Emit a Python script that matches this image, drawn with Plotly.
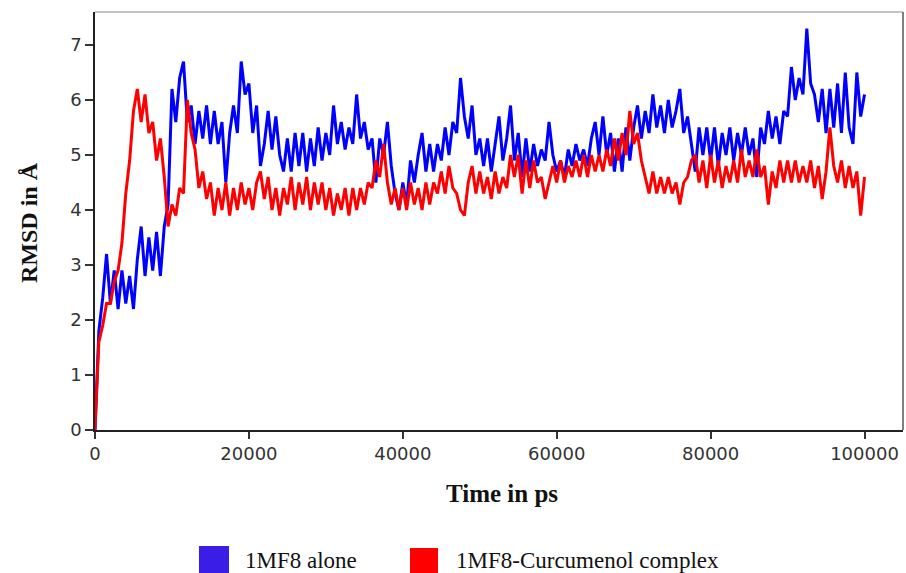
import plotly.graph_objects as go

blue_alone = [
    0.0, 1.8, 2.4, 3.2, 2.3, 2.9, 2.2, 2.9, 2.3, 2.8, 2.2, 3.1, 3.7, 2.8, 3.5, 2.9, 3.6, 2.8, 3.7, 4.1,
    6.2, 5.6, 6.4, 6.7, 5.6, 5.9, 5.2, 5.8, 5.3, 5.9, 5.2, 5.8, 5.2, 5.6, 4.5, 5.4, 5.9, 5.4, 6.7, 6.1,
    6.3, 5.4, 5.9, 4.8, 5.2, 5.8, 5.1, 5.7, 5.0, 4.7, 5.3, 4.7, 5.4, 4.8, 5.4, 4.7, 5.3, 4.8, 5.5, 4.9,
    5.4, 5.0, 5.9, 5.2, 5.6, 5.1, 5.5, 5.2, 6.1, 5.3, 5.6, 5.1, 5.3, 4.5, 5.3, 5.0, 5.6, 4.8, 4.3, 4.0,
    4.5, 4.1, 4.9, 4.5, 5.0, 5.4, 4.7, 5.2, 4.7, 5.2, 4.9, 5.5, 5.0, 5.6, 5.4, 6.4, 5.7, 5.3, 5.9, 5.0,
    5.3, 4.8, 5.3, 4.7, 5.2, 5.7, 4.9, 5.3, 5.9, 4.9, 5.4, 4.6, 5.3, 4.7, 5.2, 4.8, 5.1, 4.9, 5.6, 5.0,
    4.7, 4.9, 4.6, 5.1, 4.8, 5.2, 4.9, 5.1, 4.8, 5.3, 5.6, 5.0, 5.7, 5.0, 5.4, 4.7, 5.3, 4.7, 5.5, 4.9,
    5.5, 5.9, 5.3, 5.8, 5.4, 6.1, 5.5, 5.9, 5.4, 6.0, 5.5, 5.8, 6.2, 5.4, 5.7, 5.2, 4.7, 5.5, 5.0, 5.5,
    4.9, 5.5, 4.8, 5.4, 5.0, 5.5, 4.9, 5.4, 5.0, 5.5, 5.0, 5.3, 4.6, 5.5, 5.2, 5.8, 5.3, 5.7, 5.2, 5.8,
    5.7, 6.6, 6.0, 6.4, 6.1, 7.3, 6.3, 6.1, 5.6, 6.2, 5.4, 6.2, 5.5, 6.3, 5.4, 6.5, 5.5, 5.2, 6.5, 5.7,
    6.1,
]

red_complex = [
    0.0, 1.6, 1.9, 2.3, 2.3, 2.7, 2.9, 3.4, 4.3, 4.9, 5.8, 6.2, 5.6, 6.1, 5.4, 5.6, 4.9, 5.3, 4.6, 3.7,
    4.1, 3.9, 4.4, 4.3, 6.0, 5.4, 5.1, 4.4, 4.7, 4.2, 4.5, 3.9, 4.4, 4.0, 4.5, 3.9, 4.4, 4.0, 4.5, 4.1,
    4.4, 4.0, 4.5, 4.7, 4.2, 4.6, 4.0, 4.4, 3.9, 4.4, 4.1, 4.6, 4.0, 4.5, 4.1, 4.6, 4.0, 4.5, 4.1, 4.5,
    4.0, 4.4, 3.9, 4.3, 4.0, 4.4, 3.9, 4.4, 4.0, 4.4, 4.1, 4.5, 4.4, 4.9, 4.6, 5.2, 4.5, 4.1, 4.4, 4.0,
    4.4, 4.0, 4.5, 4.1, 4.4, 4.0, 4.5, 4.1, 4.5, 4.3, 4.7, 4.3, 4.8, 4.4, 4.3, 4.0, 3.9, 4.5, 4.8, 4.3,
    4.7, 4.3, 4.6, 4.2, 4.7, 4.3, 4.6, 4.4, 5.0, 4.6, 5.0, 4.3, 4.9, 4.4, 4.9, 4.5, 4.6, 4.2, 4.5, 4.8,
    4.5, 4.9, 4.5, 4.8, 4.6, 4.9, 4.6, 5.0, 4.6, 5.0, 4.7, 5.0, 4.7, 5.1, 4.8, 5.3, 4.9, 5.4, 5.0, 5.8,
    5.2, 5.4, 4.9, 4.6, 4.3, 4.7, 4.3, 4.6, 4.3, 4.6, 4.3, 4.5, 4.1, 4.5, 4.6, 4.9, 5.0, 4.5, 4.9, 4.4,
    5.0, 4.5, 4.9, 4.4, 4.8, 4.5, 4.9, 4.5, 5.1, 4.6, 4.9, 4.6, 5.1, 4.6, 4.8, 4.1, 4.7, 4.4, 4.9, 4.5,
    4.9, 4.5, 4.9, 4.5, 4.8, 4.5, 4.9, 4.4, 4.8, 4.2, 4.7, 5.5, 4.8, 4.5, 4.9, 4.4, 4.8, 4.4, 4.7, 3.9,
    4.6,
]

time_step_ps = 500
time_ps = [i * time_step_ps for i in range(len(blue_alone))]

x_ticks = [0, 20000, 40000, 60000, 80000, 100000]
y_ticks = [0, 1, 2, 3, 4, 5, 6, 7]

series_names = ["1MF8 alone", "1MF8-Curcumenol complex"]
line_colors = ["#0000ff", "#ff0000"]
legend_colors = ["#3a1ee8", "#ff0000"]

fig = go.Figure()
fig.add_trace(go.Scatter(x=time_ps, y=blue_alone, mode="lines", name=series_names[0],
                         line=dict(color=line_colors[0], width=3), showlegend=False))
fig.add_trace(go.Scatter(x=time_ps, y=red_complex, mode="lines", name=series_names[1],
                         line=dict(color=line_colors[1], width=3), showlegend=False))

tick_font = dict(family="DejaVu Sans", size=18, color="#333333")

fig.update_xaxes(range=[0, 105000], tickvals=x_ticks, ticktext=[str(v) for v in x_ticks],
                 showgrid=False, zeroline=False, showline=True, linecolor="#222222", linewidth=1.5,
                 ticks="outside", ticklen=7, tickwidth=1.5, tickcolor="#333333", tickfont=tick_font,
                 automargin=False)
fig.update_yaxes(range=[0, 7.6], tickvals=y_ticks, showgrid=False, zeroline=False, showline=True,
                 linecolor="#222222", linewidth=1.5, ticks="outside", ticklen=8, tickwidth=1.5,
                 tickcolor="#333333", tickfont=tick_font, automargin=False)

# top/right frame in lighter grey
fig.add_shape(type="line", xref="paper", yref="paper", x0=0, x1=1, y0=1, y1=1,
              line=dict(color="#888888", width=1.2))
fig.add_shape(type="line", xref="paper", yref="paper", x0=1, x1=1, y0=0, y1=1,
              line=dict(color="#555555", width=1.5))

PW, PH, L, T = 808.0, 418.0, 95.0, 12.0


def px_x(x):
    return (x - L) / PW


def px_y(y):
    return (T + PH - y) / PH


title_font = dict(family="Liberation Serif", size=25, color="#111111")
fig.add_annotation(text="<b>Time in ps</b>", xref="paper", yref="paper", x=px_x(502), y=px_y(493),
                   xanchor="center", yanchor="middle", showarrow=False, font=title_font)
fig.add_annotation(text="<b>RMSD in Å</b>", xref="paper", yref="paper", x=px_x(29), y=px_y(223),
                   xanchor="center", yanchor="middle", showarrow=False, textangle=-90,
                   font=dict(family="Liberation Serif", size=24, color="#111111"))

# legend (custom, squares + labels)
legend_font = dict(family="Liberation Serif", size=23, color="#111111")
fig.add_shape(type="rect", xref="paper", yref="paper", x0=px_x(199), x1=px_x(229),
              y0=px_y(576), y1=px_y(546), fillcolor=legend_colors[0], line=dict(width=0))
fig.add_annotation(text=series_names[0], xref="paper", yref="paper", x=px_x(243),
                   y=px_y(560), xanchor="left", yanchor="middle", showarrow=False, font=legend_font)
fig.add_shape(type="rect", xref="paper", yref="paper", x0=px_x(410), x1=px_x(438),
              y0=px_y(576), y1=px_y(548), fillcolor=legend_colors[1], line=dict(width=0))
fig.add_annotation(text=series_names[1], xref="paper", yref="paper", x=px_x(454),
                   y=px_y(560), xanchor="left", yanchor="middle", showarrow=False, font=legend_font)

fig.update_layout(width=906, height=573, margin=dict(l=95, r=3, t=12, b=143, autoexpand=False),
                  plot_bgcolor="white", paper_bgcolor="white")

fig.write_html("out.html", config={"displayModeBar": False},
               post_script="document.body.style.margin='0';document.body.style.overflow='hidden';")
